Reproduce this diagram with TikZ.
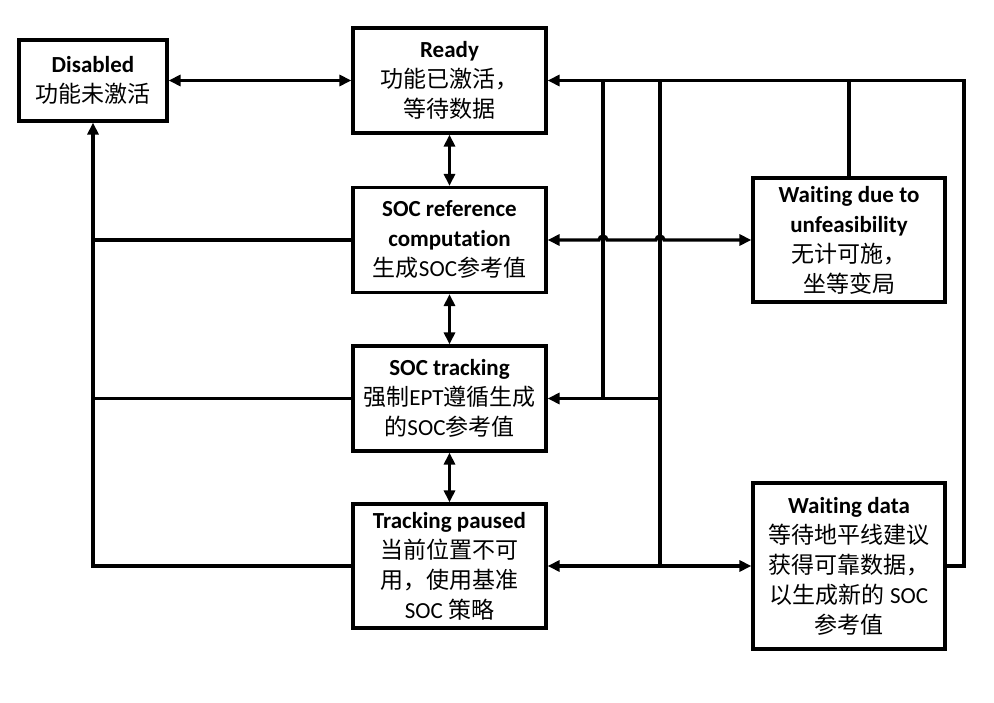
\documentclass[tikz,border=0pt]{standalone}
\usepackage{fontspec}
\setmainfont{Carlito}[Ligatures={NoCommon}]
\newfontfamily\cjk{Noto Sans CJK SC}
\usetikzlibrary{arrows.meta}
\begin{document}
\begin{tikzpicture}[x=1pt,y=1pt,
  line width=3.2pt,
  >={Triangle[length=12pt,width=11pt]},
  state/.style={draw, line width=3.2pt, align=center, inner sep=0pt, minimum width=193pt,
    font=\fontsize{23}{30}\selectfont},
  conn/.style={line width=3.2pt}]
\useasboundingbox (0,0) rectangle (994,702);
% states
\node[state, minimum width=148pt, minimum height=81pt] (dis) at (93,621.5)
  {\textbf{Disabled}\\{\cjk 功能未激活}};
\node[state, minimum height=105pt] (ready) at (449.5,621.5)
  {\textbf{Ready}\\{\cjk 功能已激活，}\\{\cjk 等待数据}};
\node[state, minimum height=105pt] (socref) at (449.5,462)
  {\textbf{SOC reference}\\\textbf{computation}\\{\cjk 生成}SOC{\cjk 参考值}};
\node[state, minimum height=105pt] (soctrack) at (449.5,303.5)
  {\textbf{SOC tracking}\\{\cjk 强制}EPT{\cjk 遵循生成}\\{\cjk 的}SOC{\cjk 参考值}};
\node[state, minimum height=124pt] (paused) at (449.5,136)
  {\textbf{Tracking paused}\\{\cjk 当前位置不可}\\{\cjk 用，使用基准}\\SOC {\cjk 策略}};
\node[state, minimum width=192pt, minimum height=124pt] (wdue) at (849,462)
  {\textbf{Waiting due to}\\\textbf{unfeasibility}\\{\cjk 无计可施，}\\{\cjk 坐等变局}};
\node[state, minimum width=192pt, minimum height=166pt] (wdata) at (849,136)
  {\textbf{Waiting data}\\{\cjk 等待地平线建议}\\{\cjk 获得可靠数据，}\\{\cjk 以生成新的} SOC\\{\cjk 参考值}};
% helper coordinates
\coordinate (tr) at (964,621.5);
\coordinate (v1top) at (603,621.5);
\coordinate (v1bot) at (603,303.5);
\coordinate (v2top) at (660,621.5);
\coordinate (v2bot) at (660,136);
% vertical chain
\draw[conn,<->] (dis) -- (ready);
\draw[conn,<->] (ready) -- (socref);
\draw[conn,<->] (socref) -- (soctrack);
\draw[conn,<->] (soctrack) -- (paused);
% left bus to Disabled
\draw[conn,->] (paused.west) -| (dis.south);
\draw[conn] (socref.west) -- (socref.west -| dis.south);
\draw[conn] (soctrack.west) -- (soctrack.west -| dis.south);
% right side
\draw[conn,->] (wdata.east) -| (tr) -- (ready.east);
\draw[conn] (wdue.north) -- (wdue.north |- tr);
\draw[conn] (v1top) -- (v1bot);
\draw[conn] (v2top) -- (v2bot);
\draw[conn,->] (soctrack.east -| v2bot) -- (soctrack.east);
\draw[conn,<->] (paused.east) -- (wdata.west);
\draw[conn,<->] (socref.east) -- (599,462) arc[start angle=180,end angle=0,radius=4]
  -- (656,462) arc[start angle=180,end angle=0,radius=4] -- (wdue.west);
\end{tikzpicture}
\end{document}
